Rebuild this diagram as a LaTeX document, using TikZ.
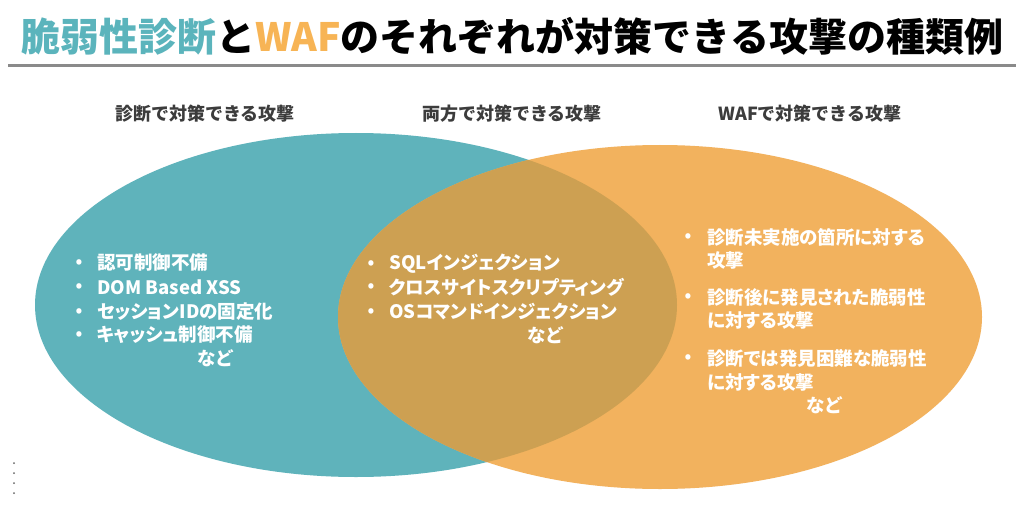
\documentclass[tikz,border=0pt]{standalone}
\usepackage{fontspec}
\setmainfont{Noto Sans CJK JP}
\newfontfamily\jpp{Noto Sans CJK JP}[RawFeature=+palt]
\definecolor{tealA}{HTML}{5FB3BB}
\definecolor{orngA}{HTML}{F2B25E}
\definecolor{ovlA}{HTML}{CDA052}
\definecolor{ttealA}{HTML}{5BB4BC}
\definecolor{torngA}{HTML}{F7B455}
\definecolor{subA}{HTML}{3C3C3C}
\definecolor{ruleA}{HTML}{8A8A8A}
\begin{document}
\begin{tikzpicture}[x=1pt,y=-1pt,
  item/.style={anchor=west,text=white,font=\jpp\bfseries\fontsize{18.5}{18}\selectfont,inner sep=0pt},
  nado/.style={anchor=center,text=white,font=\jpp\bfseries\fontsize{18.5}{18}\selectfont,inner sep=0pt},
  bul/.style={anchor=center,text=white,font=\bfseries\fontsize{17}{17}\selectfont,inner sep=0pt},
  subt/.style={anchor=center,text=subA,font=\bfseries\fontsize{18}{18}\selectfont,inner sep=0pt}]
\useasboundingbox (0,0) rectangle (1024,513);
\fill[white] (0,0) rectangle (1024,513);
% title
\node[anchor=center,inner sep=0pt,font=\bfseries\fontsize{39}{41}\selectfont] (title) at (512,36)
  {\textcolor{ttealA}{脆弱性診断}と\textcolor{torngA}{WAF}のそれぞれが対策できる攻撃の種類例};
\draw[line width=3.5pt, draw=ruleA] (8,65.5) -- (1016,65.5);
% subtitles
\node[subt] (s1) at (205,114) {診断で対策できる攻撃};
\node[subt] (s2) at (512,114) {両方で対策できる攻撃};
\node[subt] (s3) at (810,114) {WAFで対策できる攻撃};
% ellipses
\fill[tealA] (356,305) ellipse [x radius=321, y radius=172];
\fill[orngA] (660,317) ellipse [x radius=322, y radius=172];
\begin{scope}
  \clip (660,317) ellipse [x radius=322, y radius=172];
  \fill[ovlA] (356,305) ellipse [x radius=321, y radius=172];
\end{scope}
% left items
\node[bul] (bl1) at (79,264) {•};
\node[item] (l1) at (97,263) {認可制御不備};
\node[bul] (bl2) at (79,288) {•};
\node[item] (l2) at (97,287) {DOM Based XSS};
\node[bul] (bl3) at (79,313) {•};
\node[item] (l3) at (97,312) {セッションIDの固定化};
\node[bul] (bl4) at (79,336) {•};
\node[item] (l4) at (97,335) {キャッシュ制御不備};
\node[nado] (l5) at (215,358) {など};
% middle items
\node[bul] (bm1) at (371,265) {•};
\node[item] (m1) at (389,264) {SQLインジェクション};
\node[bul] (bm2) at (371,288) {•};
\node[item] (m2) at (389,287) {クロスサイトスクリプティング};
\node[bul] (bm3) at (371,313) {•};
\node[item] (m3) at (389,312) {OSコマンドインジェクション};
\node[nado] (m4) at (545,335) {など};
% right items
\node[bul] (br1) at (688,238) {•};
\node[item] (r1) at (707,237) {診断未実施の箇所に対する};
\node[item] (r1b) at (707,260) {攻撃};
\node[bul] (br2) at (688,298) {•};
\node[item] (r2) at (707,297) {診断後に発見された脆弱性};
\node[item] (r2b) at (707,320) {に対する攻撃};
\node[bul] (br3) at (688,359) {•};
\node[item] (r3) at (707,358) {診断では発見困難な脆弱性};
\node[item] (r3b) at (707,382) {に対する攻撃};
\node[nado] (r4) at (824,405) {など};
% small dots bottom-left
\foreach \yy in {463,473,483,493} \fill[black!60] (14,\yy) circle (1);
\end{tikzpicture}
\end{document}
